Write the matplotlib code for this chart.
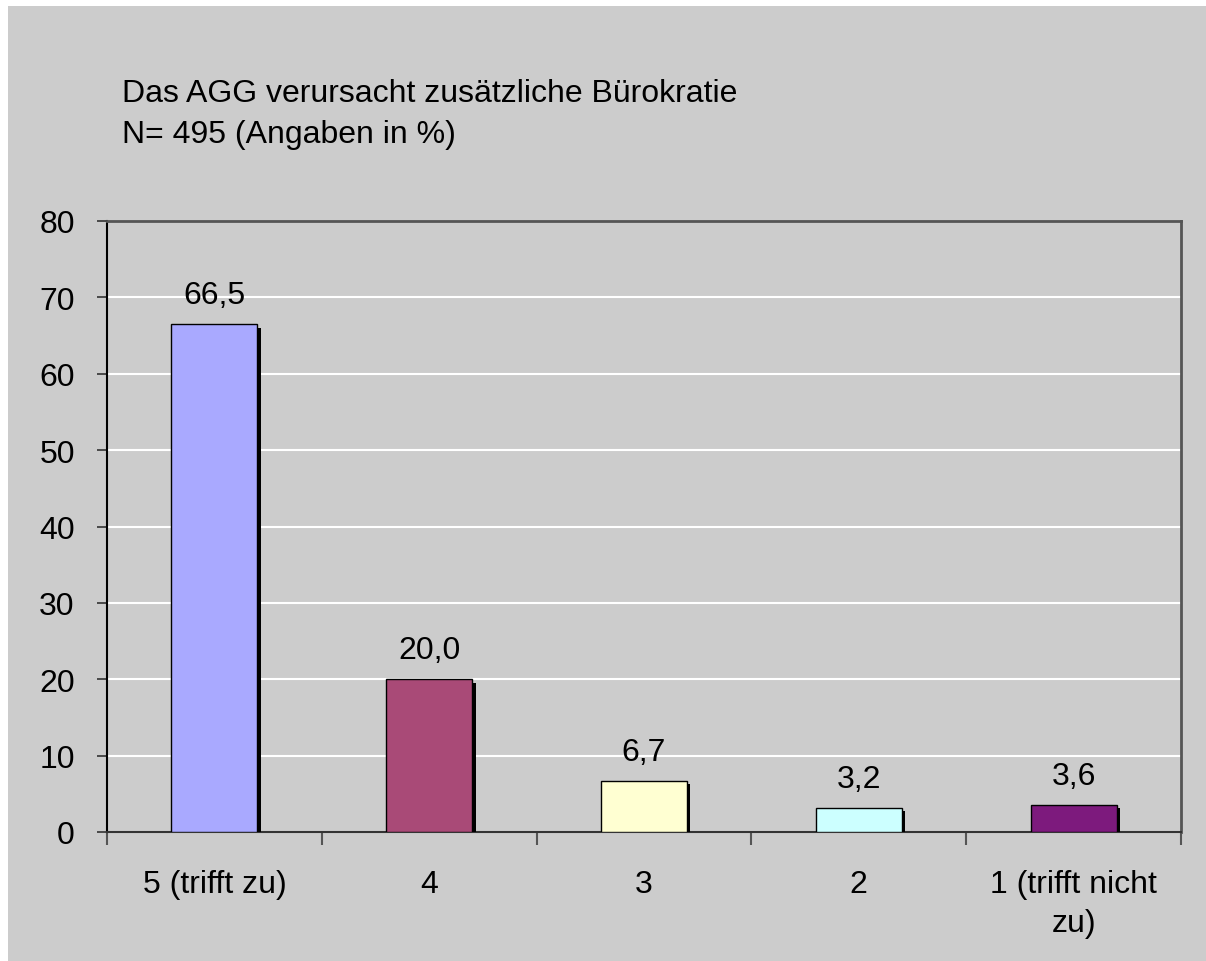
import matplotlib
matplotlib.use("Agg")
import matplotlib.pyplot as plt
import matplotlib.patheffects as pe
from matplotlib.patches import Rectangle

categories = ["5 (trifft zu)", "4", "3", "2", "1 (trifft nicht\nzu)"]
values = [66.5, 20.0, 6.7, 3.2, 3.6]
value_labels = ["66,5", "20,0", "6,7", "3,2", "3,6"]
bar_colors = ["#A9A9FF", "#A94A77", "#FFFFD2", "#CCFFFF", "#7D1A7D"]
yticks = [0, 10, 20, 30, 40, 50, 60, 70, 80]
title_lines = ["Das AGG verursacht zusätzliche Bürokratie", "N= 495 (Angaben in %)"]

plt.rcParams['font.family'] = ['Liberation Sans', 'DejaVu Sans']
FS = 23
W, H = 1206, 962
fig = plt.figure(figsize=(W / 100, H / 100), dpi=100, facecolor="white")
fig.patches.append(Rectangle((8 / W, -0.05), 1.1, 1.05 - 7 / H, transform=fig.transFigure,
                             facecolor="#CCCCCC", edgecolor="none", zorder=-10))

ax = fig.add_axes([107 / W, 1 - 833 / H, (1181 - 107) / W, (833 - 222) / H])
ax.set_facecolor("#CCCCCC")
x = list(range(len(categories)))
bars = ax.bar(x, values, width=0.40, color=bar_colors, edgecolor="black", linewidth=1.0, zorder=3)
for b in bars:
    b.set_path_effects([pe.SimplePatchShadow(offset=(2.5, -2.5), shadow_rgbFace="black", alpha=1.0), pe.Normal()])

ax.set_xlim(-0.5, len(categories) - 0.5)
ax.set_ylim(0, 80)
ax.set_yticks(yticks)
ax.set_yticklabels([str(v) for v in yticks], fontsize=FS)
ax.yaxis.grid(True, color="white", linewidth=1.5, zorder=1)
ax.set_axisbelow(True)

ax.set_xticks(x)
ax.set_xticklabels(categories, fontsize=FS, linespacing=1.35)
ax.set_xticks([i - 0.5 for i in range(len(categories) + 1)], minor=True)
ax.tick_params(axis="x", which="major", length=0, pad=27)
ax.tick_params(axis="x", which="minor", length=9, width=1.5, color="#555555", direction="out")
ax.tick_params(axis="y", which="major", length=7.2, width=1.2, color="#333333", pad=16, direction="out")

for side in ["top", "right"]:
    ax.spines[side].set_color("#555555")
    ax.spines[side].set_linewidth(2)
ax.spines["left"].set_color("black")
ax.spines["left"].set_linewidth(1.5)
ax.spines["bottom"].set_color("#333333")
ax.spines["bottom"].set_linewidth(1.5)

for xi, v, lab in zip(x, values, value_labels):
    ax.annotate(lab, (xi, v), xytext=(0, 15), textcoords="offset points",
                ha="center", va="baseline", fontsize=FS, zorder=5)

fig.text(122 / W, 1 - 102 / H, title_lines[0], fontsize=FS, ha="left", va="baseline")
fig.text(122 / W, 1 - 143 / H, title_lines[1], fontsize=FS, ha="left", va="baseline")

fig.savefig("out.png", dpi=100, facecolor=fig.get_facecolor())
